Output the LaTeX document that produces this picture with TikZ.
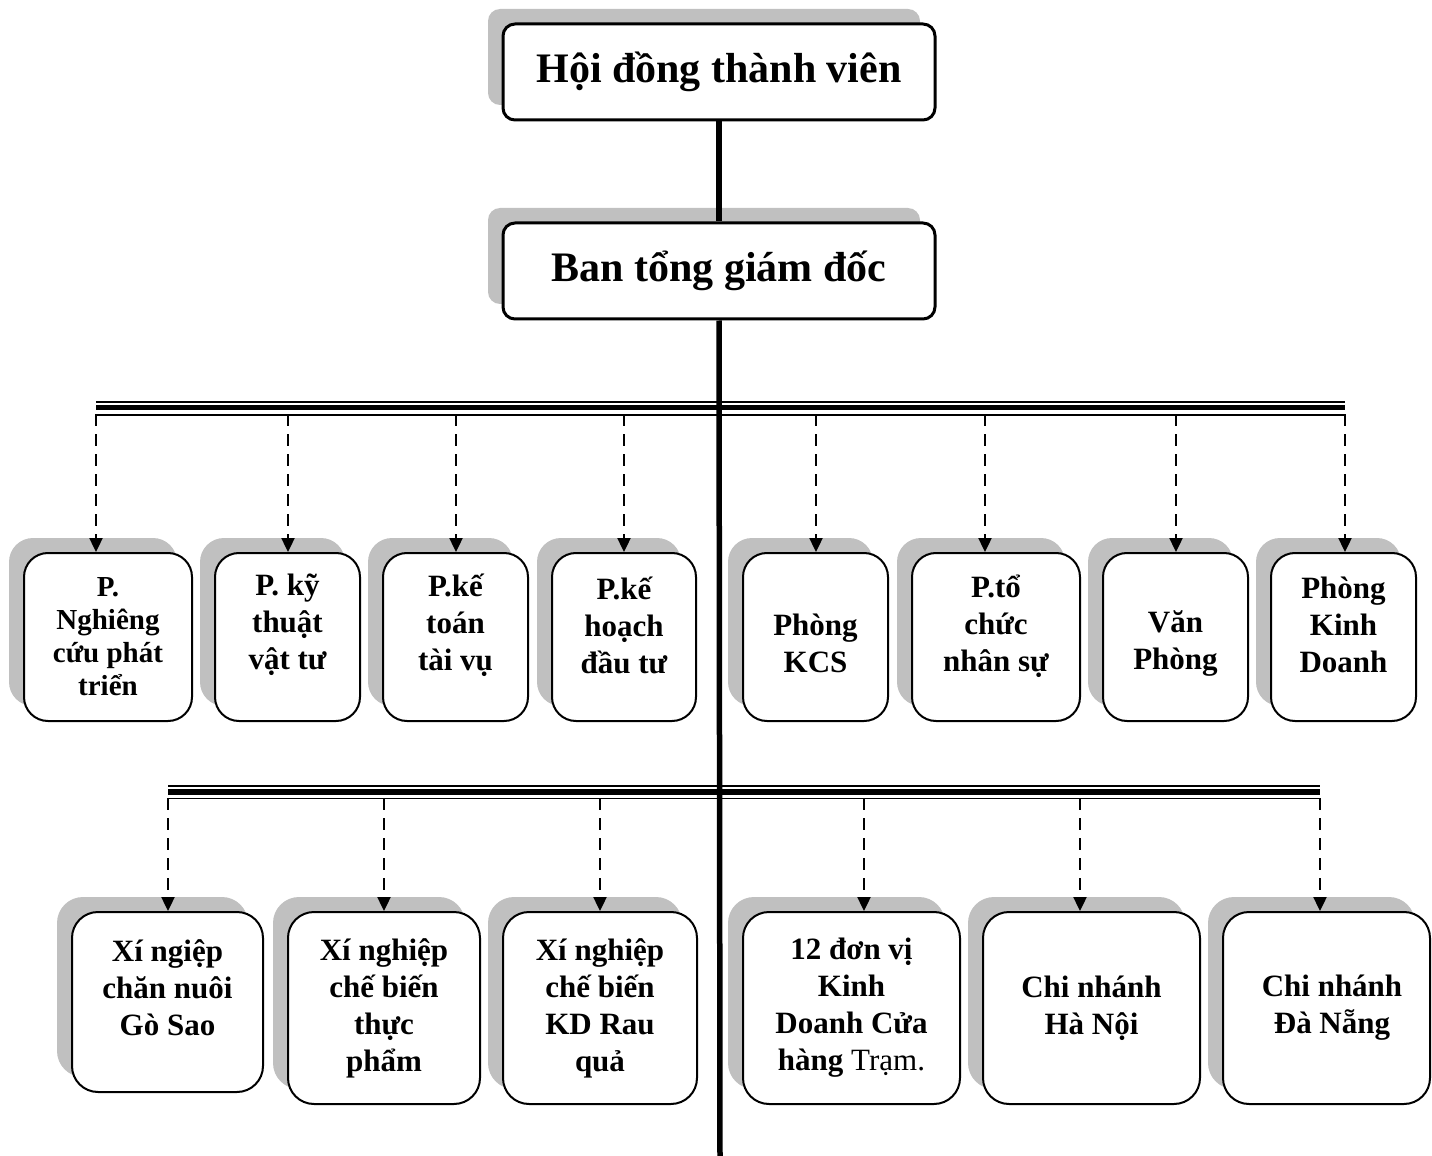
\documentclass[tikz,border=0pt]{standalone}
\usepackage{fontspec}
\setmainfont{Liberation Serif}
\usepackage{xcolor}
\usetikzlibrary{shadows,arrows.meta}
\definecolor{shadowgray}{RGB}{192,192,192}

\begin{document}
\begin{tikzpicture}[
        x=0.5pt, y=-0.5pt,
        box shadow/.style={general shadow={fill=shadowgray, shadow xshift=-7.5pt, shadow yshift=7.5pt}},
        head box/.style={draw, line width=1.5pt, rounded corners=6pt, fill=white, box shadow,
            minimum width=216pt, minimum height=48pt, font=\bfseries\fontsize{21}{25}\selectfont},
        unit box/.style={draw, line width=1pt, rounded corners=12pt, fill=white, box shadow},
        unit text/.style={align=center, font=\bfseries\fontsize{15.5}{18.5}\selectfont},
        small text/.style={align=center, font=\bfseries\fontsize{14.5}{16.5}\selectfont},
        trunk/.style={line width=2.75pt},
        thin bus/.style={line width=0.9pt},
        thick bus/.style={line width=2.6pt},
        dashed edge/.style={line width=1.2pt, dash pattern=on 6pt off 4pt, -{Triangle[width=6.5pt,length=7pt]}}
    ]
    \useasboundingbox (0,0) rectangle (1432,1156);

    % Top of the chart
    \node[head box] (hdtv) at (719,72) {Hội đồng thành viên};
    \node[head box] (btgd) at (719,271) {Ban tổng giám đốc};

    % Departments
    \node[unit box, minimum width=84pt, minimum height=84pt,
        label={[small text]center:P.\\Nghiêng\\cứu phát\\triển}] (pnc) at (108,637) {};
    \node[unit box, minimum width=72.5pt, minimum height=84pt,
        label={[unit text, yshift=6pt]center:P. kỹ\\thuật\\vật tư}] (pkt) at (287.5,637) {};
    \node[unit box, minimum width=72.5pt, minimum height=84pt,
        label={[unit text, yshift=6pt]center:P.kế\\toán\\tài vụ}] (pktv) at (455.5,637) {};
    \node[unit box, minimum width=72pt, minimum height=84pt,
        label={[unit text, yshift=6pt]center:P.kế\\hoạch\\đầu tư}] (pkh) at (624,637) {};
    \node[unit box, minimum width=72.5pt, minimum height=84pt,
        label={[unit text, yshift=-3.25pt]center:Phòng\\KCS}] (kcs) at (815.5,637) {};
    \node[unit box, minimum width=84pt, minimum height=84pt,
        label={[unit text, yshift=5.5pt]center:P.tổ\\chức\\nhân sự}] (ptc) at (996,637) {};
    \node[unit box, minimum width=72.5pt, minimum height=84pt,
        label={[unit text, yshift=-3.25pt]center:Văn\\Phòng}] (vp) at (1175.5,637) {};
    \node[unit box, minimum width=72.5pt, minimum height=84pt,
        label={[unit text, yshift=6pt]center:Phòng\\Kinh\\Doanh}] (pkd) at (1343.5,637) {};

    % Units
    \node[unit box, rounded corners=13pt, minimum width=95.5pt, minimum height=90pt,
        label={[unit text, yshift=7pt]center:Xí ngiệp\\chăn nuôi\\Gò Sao}] (xncn) at (167.5,1002) {};
    \node[unit box, rounded corners=13pt, minimum width=96pt, minimum height=96pt,
        label={[unit text]center:Xí nghiệp\\chế biến\\thực\\phẩm}] (xncb) at (384,1008) {};
    \node[unit box, rounded corners=13pt, minimum width=97pt, minimum height=96pt,
        label={[unit text]center:Xí nghiệp\\chế biến\\KD Rau\\quả}] (xnrq) at (600,1008) {};
    \node[unit box, rounded corners=13pt, minimum width=108.5pt, minimum height=96pt,
        label={[unit text]center:12 đơn vị\\Kinh\\Doanh Cửa\\hàng {\mdseries Trạm.}}] (dvkd) at (851.5,1008) {};
    \node[unit box, rounded corners=13pt, minimum width=108.5pt, minimum height=96pt,
        label={[unit text]center:Chi nhánh\\Hà Nội}] (cnhn) at (1091.5,1008) {};
    \node[unit box, rounded corners=13pt, minimum width=103.5pt, minimum height=96pt,
        label={[unit text, xshift=2.75pt]center:Chi nhánh\\Đà Nẵng}] (cndn) at (1326.5,1008) {};

    % Bus lines
    \coordinate (busA west) at (96,407.5);
    \coordinate (busA east) at (1345,407.5);
    \draw[thin bus] ([yshift=2.75pt]busA west) -- ([yshift=2.75pt]busA east);
    \draw[thick bus] (busA west) -- (busA east);
    \draw[thin bus] ([yshift=-3.75pt]busA west) -- ([yshift=-3.75pt]busA east);

    \coordinate (busB west) at (168,792);
    \coordinate (busB east) at (1320,792);
    \draw[thin bus] ([yshift=3pt]busB west) -- ([yshift=3pt]busB east);
    \draw[thick bus] (busB west) -- (busB east);
    \draw[thin bus] ([yshift=-3.25pt]busB west) -- ([yshift=-3.25pt]busB east);

    % Main trunk
    \coordinate (trunk end) at (720,1156);
    \draw[trunk] (hdtv.south) -- (btgd.north);
    \draw[trunk] (btgd.south) -- (trunk end);

    % Dashed links to departments
    \coordinate (a1) at (96,414);
    \coordinate (a2) at (288,414);
    \coordinate (a3) at (456,414);
    \coordinate (a4) at (624,414);
    \coordinate (a5) at (816,414);
    \coordinate (a6) at (985,414);
    \coordinate (a7) at (1176,414);
    \coordinate (a8) at (1345,414);
    \draw[dashed edge] (a1) -- (a1 |- pnc.north);
    \draw[dashed edge] (a2) -- (a2 |- pkt.north);
    \draw[dashed edge] (a3) -- (a3 |- pktv.north);
    \draw[dashed edge] (a4) -- (a4 |- pkh.north);
    \draw[dashed edge] (a5) -- (a5 |- kcs.north);
    \draw[dashed edge] (a6) -- (a6 |- ptc.north);
    \draw[dashed edge] (a7) -- (a7 |- vp.north);
    \draw[dashed edge] (a8) -- (a8 |- pkd.north);

    % Dashed links to units
    \coordinate (b1) at (168,798);
    \coordinate (b2) at (384,798);
    \coordinate (b3) at (600,798);
    \coordinate (b4) at (864,798);
    \coordinate (b5) at (1080,798);
    \coordinate (b6) at (1320,798);
    \draw[dashed edge] (b1) -- (b1 |- xncn.north);
    \draw[dashed edge] (b2) -- (b2 |- xncb.north);
    \draw[dashed edge] (b3) -- (b3 |- xnrq.north);
    \draw[dashed edge] (b4) -- (b4 |- dvkd.north);
    \draw[dashed edge] (b5) -- (b5 |- cnhn.north);
    \draw[dashed edge] (b6) -- (b6 |- cndn.north);

\end{tikzpicture}
\end{document}
